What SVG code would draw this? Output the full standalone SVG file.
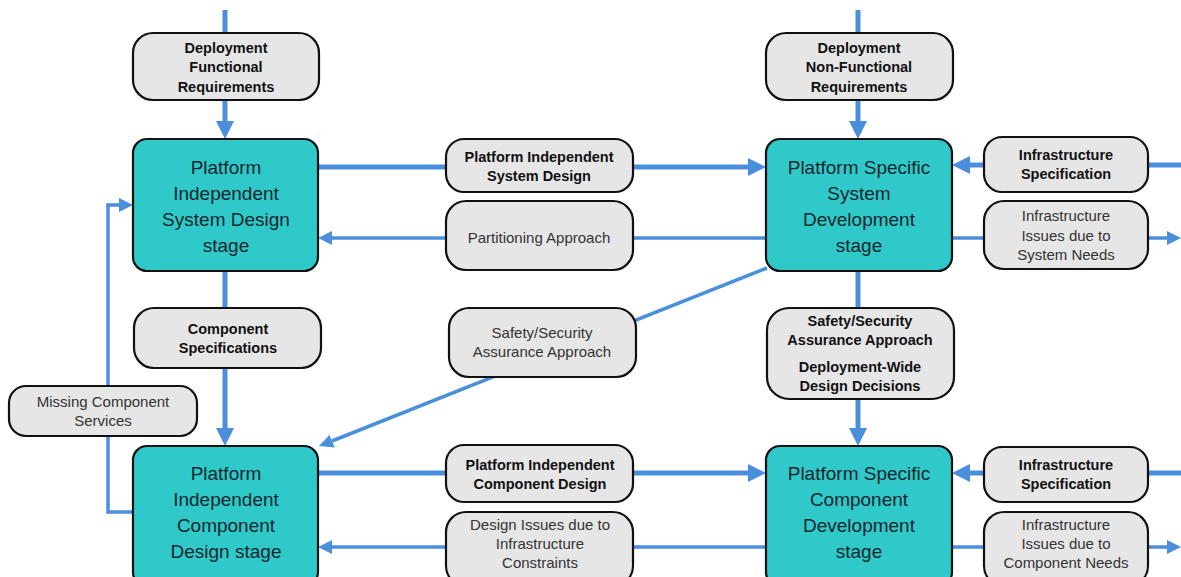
<svg xmlns="http://www.w3.org/2000/svg" width="1181" height="577" viewBox="0 0 1181 577">
  <style>
    .bg { fill: #ffffff; }
    .wire { stroke: #4a8fdc; fill: none; stroke-linecap: butt; }
    .thick { stroke-width: 5; }
    .thin { stroke-width: 3.5; }
    .head { fill: #4a8fdc; stroke: none; }
    .stage { fill: #30c9c9; stroke: #111; stroke-width: 2.2; }
    .note { fill: #e6e6e6; stroke: #111; stroke-width: 2.2; }
    .stage-text { font-family: "Liberation Sans", Arial, sans-serif; font-size: 19px; fill: #13262c; text-anchor: middle; }
    .bold { font-family: "Liberation Sans", Arial, sans-serif; font-size: 14.5px; font-weight: bold; fill: #111; text-anchor: middle; }
    .plain { font-family: "Liberation Sans", Arial, sans-serif; font-size: 15px; fill: #333; text-anchor: middle; }
  </style>
  <rect class="bg" x="0" y="0" width="1181" height="577"/>

  <g id="connectors">
    <!-- incoming requirement feeds -->
    <line class="wire thick" x1="225" y1="10" x2="225" y2="122"/>
    <polygon class="head" points="216,121 234,121 225,139"/>
    <line class="wire thick" x1="858" y1="10" x2="858" y2="122"/>
    <polygon class="head" points="849,121 867,121 858,139"/>

    <!-- system level: design forward, partitioning back -->
    <line class="wire thick" x1="318" y1="167" x2="749" y2="167"/>
    <polygon class="head" points="748,158 748,176 766,167"/>
    <line class="wire thin" x1="766" y1="238" x2="330" y2="238"/>
    <polygon class="head" points="332,231 332,245 318,238"/>

    <!-- system level: infrastructure -->
    <line class="wire thick" x1="1181" y1="165" x2="969" y2="165"/>
    <polygon class="head" points="970,156 970,174 952,165"/>
    <line class="wire thin" x1="952" y1="238" x2="1169" y2="238"/>
    <polygon class="head" points="1167,231 1167,245 1181,238"/>

    <!-- system to component stage -->
    <line class="wire thick" x1="225" y1="271" x2="225" y2="429"/>
    <polygon class="head" points="216,428 234,428 225,446"/>
    <line class="wire thick" x1="858" y1="271" x2="858" y2="429"/>
    <polygon class="head" points="849,428 867,428 858,446"/>

    <!-- safety/security assurance diagonal -->
    <line class="wire thin" x1="767" y1="268" x2="332" y2="441"/>
    <polygon class="head" points="334.8,447.5 329.4,434.9 319,446"/>

    <!-- missing component services loop -->
    <polyline class="wire thin" points="133,512 108,512 108,205 121,205"/>
    <polygon class="head" points="119,198 119,212 133,205"/>

    <!-- component level: design forward, issues back -->
    <line class="wire thick" x1="318" y1="473" x2="749" y2="473"/>
    <polygon class="head" points="748,464 748,482 766,473"/>
    <line class="wire thin" x1="766" y1="547" x2="330" y2="547"/>
    <polygon class="head" points="332,540 332,554 318,547"/>

    <!-- component level: infrastructure -->
    <line class="wire thick" x1="1181" y1="473" x2="969" y2="473"/>
    <polygon class="head" points="970,464 970,482 952,473"/>
    <line class="wire thin" x1="952" y1="547" x2="1169" y2="547"/>
    <polygon class="head" points="1167,540 1167,554 1181,547"/>
  </g>

  <!-- stage boxes -->
  <g id="pi-system-design">
    <rect class="stage" x="133" y="139" width="185" height="132" rx="14"/>
    <text class="stage-text" x="226" y="174">Platform</text>
    <text class="stage-text" x="226" y="200">Independent</text>
    <text class="stage-text" x="226" y="226">System Design</text>
    <text class="stage-text" x="226" y="252">stage</text>
  </g>
  <g id="ps-system-development">
    <rect class="stage" x="766" y="139" width="186" height="132" rx="14"/>
    <text class="stage-text" x="859" y="174">Platform Specific</text>
    <text class="stage-text" x="859" y="200">System</text>
    <text class="stage-text" x="859" y="226">Development</text>
    <text class="stage-text" x="859" y="252">stage</text>
  </g>
  <g id="pi-component-design">
    <rect class="stage" x="133" y="446" width="185" height="140" rx="14"/>
    <text class="stage-text" x="226" y="480">Platform</text>
    <text class="stage-text" x="226" y="506">Independent</text>
    <text class="stage-text" x="226" y="532">Component</text>
    <text class="stage-text" x="226" y="558">Design stage</text>
  </g>
  <g id="ps-component-development">
    <rect class="stage" x="766" y="446" width="186" height="140" rx="14"/>
    <text class="stage-text" x="859" y="480">Platform Specific</text>
    <text class="stage-text" x="859" y="506">Component</text>
    <text class="stage-text" x="859" y="532">Development</text>
    <text class="stage-text" x="859" y="558">stage</text>
  </g>

  <!-- flow labels -->
  <g id="deployment-functional-requirements">
    <rect class="note" x="133" y="33" width="186" height="67" rx="20"/>
    <text class="bold" x="226" y="53">Deployment</text>
    <text class="bold" x="226" y="72">Functional</text>
    <text class="bold" x="226" y="92">Requirements</text>
  </g>
  <g id="deployment-nonfunctional-requirements">
    <rect class="note" x="766" y="33" width="187" height="67" rx="20"/>
    <text class="bold" x="859" y="53">Deployment</text>
    <text class="bold" x="859" y="72">Non-Functional</text>
    <text class="bold" x="859" y="92">Requirements</text>
  </g>
  <g id="pi-system-design-label">
    <rect class="note" x="446" y="139" width="187" height="53" rx="18"/>
    <text class="bold" x="539" y="162">Platform Independent</text>
    <text class="bold" x="539" y="181">System Design</text>
  </g>
  <g id="partitioning-approach">
    <rect class="note" x="446" y="201" width="187" height="69" rx="20"/>
    <text class="plain" x="539" y="243">Partitioning Approach</text>
  </g>
  <g id="infrastructure-specification-system">
    <rect class="note" x="984" y="137" width="164" height="55" rx="18"/>
    <text class="bold" x="1066" y="160">Infrastructure</text>
    <text class="bold" x="1066" y="179">Specification</text>
  </g>
  <g id="infrastructure-issues-system">
    <rect class="note" x="984" y="201" width="164" height="68" rx="20"/>
    <text class="plain" x="1066" y="221">Infrastructure</text>
    <text class="plain" x="1066" y="241">Issues due to</text>
    <text class="plain" x="1066" y="260">System Needs</text>
  </g>
  <g id="component-specifications">
    <rect class="note" x="134" y="308" width="187" height="60" rx="20"/>
    <text class="bold" x="228" y="334">Component</text>
    <text class="bold" x="228" y="353">Specifications</text>
  </g>
  <g id="missing-component-services">
    <rect class="note" x="9" y="386" width="188" height="50" rx="17"/>
    <text class="plain" x="103" y="407">Missing Component</text>
    <text class="plain" x="103" y="426">Services</text>
  </g>
  <g id="safety-security-approach">
    <rect class="note" x="449" y="308" width="187" height="69" rx="20"/>
    <text class="plain" x="542" y="338">Safety/Security</text>
    <text class="plain" x="542" y="357">Assurance Approach</text>
  </g>
  <g id="deployment-wide-decisions">
    <rect class="note" x="767" y="308" width="187" height="91" rx="22"/>
    <text class="bold" x="860" y="326">Safety/Security</text>
    <text class="bold" x="860" y="345">Assurance Approach</text>
    <text class="bold" x="860" y="372">Deployment-Wide</text>
    <text class="bold" x="860" y="391">Design Decisions</text>
  </g>
  <g id="pi-component-design-label">
    <rect class="note" x="446" y="445" width="187" height="57" rx="18"/>
    <text class="bold" x="540" y="470">Platform Independent</text>
    <text class="bold" x="540" y="489">Component Design</text>
  </g>
  <g id="design-issues">
    <rect class="note" x="446" y="512" width="187" height="74" rx="20"/>
    <text class="plain" x="540" y="530">Design Issues due to</text>
    <text class="plain" x="540" y="549">Infrastructure</text>
    <text class="plain" x="540" y="568">Constraints</text>
  </g>
  <g id="infrastructure-specification-component">
    <rect class="note" x="984" y="447" width="164" height="55" rx="18"/>
    <text class="bold" x="1066" y="470">Infrastructure</text>
    <text class="bold" x="1066" y="489">Specification</text>
  </g>
  <g id="infrastructure-issues-component">
    <rect class="note" x="984" y="512" width="164" height="74" rx="20"/>
    <text class="plain" x="1066" y="530">Infrastructure</text>
    <text class="plain" x="1066" y="549">Issues due to</text>
    <text class="plain" x="1066" y="568">Component  Needs</text>
  </g>
</svg>
